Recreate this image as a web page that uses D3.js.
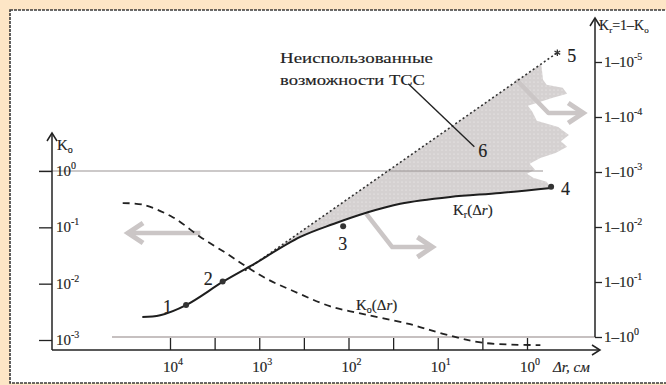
<!DOCTYPE html>
<html><head><meta charset="utf-8">
<script src="https://cdn.jsdelivr.net/npm/d3@7"></script>
<style>body{margin:0;background:#fde6c6;}svg{display:block;}text{font-family:"Liberation Serif","DejaVu Serif",serif;fill:#222;stroke:#222;stroke-width:0.15;}</style>
</head><body>
<svg id="c" width="666" height="385"></svg>
<script>
// ---- data (exponents: lg Δr, lg K) ----
const xDecades = [4, 3, 2, 1, 0];
const xMinorTicks = [4, 3.5, 3, 2.5, 2, 1.5, 1, 0.5, 0];
const yLeftTicks = [0, -1, -2, -3];
const yRightTicks = [5, 4, 3, 2, 1, 0];

// K_r(Δr) solid curve
const krLgDr = [4.31, 4.11, 3.82, 3.41, 3.10, 2.54, 2.17, 1.80, 1.42, 0.86, 0.30, -0.27];
const krLgK  = [-2.59, -2.56, -2.38, -1.97, -1.69, -1.17, -0.94, -0.74, -0.58, -0.46, -0.39, -0.30];

// K_o(Δr) dashed curve
const koLgDr = [4.53, 4.30, 3.97, 3.66, 3.36, 3.14, 2.91, 2.62, 2.21, 1.95, 1.31, 0.94, 0.49, -0.15];
const koLgK  = [-0.57, -0.60, -0.82, -1.17, -1.47, -1.70, -1.92, -2.13, -2.40, -2.50, -2.72, -2.89, -3.05, -3.09];

// upper bound (dotted)
const upLgDr = [3.16, -0.34];
const upLgK  = [-1.77, 2.10];

// jagged right edge of the shaded area (unused potential)
const edgeLgDr = [-0.16, -0.18, -0.22, -0.40, -0.45, -0.29, -0.15, -0.01, -0.06, -0.11, -0.35, -0.47, -0.38, -0.45, -0.32, -0.15, -0.03, -0.09, 0.00, -0.07, -0.22];
const edgeLgK  = [1.90, 1.62, 1.53, 1.48, 1.37, 1.30, 1.23, 1.16, 1.05, 0.89, 0.78, 0.64, 0.53, 0.43, 0.32, 0.23, 0.13, 0.02, -0.05, -0.12, -0.19];

// numbered points
const ptLabels = ["1", "2", "3", "4"];
const ptLgDr = [3.82, 3.41, 2.06, -0.27];
const ptLgK  = [-2.38, -1.96, -0.98, -0.28];
const pt5 = [-0.34, 2.10];

// grey arrows (polylines in lg coords)
const arrowsLgDr = [[3.66, 4.47], [1.80, 1.51, 1.06], [0.12, -0.24, -0.63]];
const arrowsLgK  = [[-1.10, -1.10], [-0.76, -1.35, -1.35], [1.62, 1.03, 1.03]];

// leader line to "6"
const leaderLgDr = [1.33, 0.59];
const leaderLgK  = [1.55, 0.43];

// ---- drawing ----
const svg = d3.select("#c");
const x = d3.scaleLinear().domain([4, 0]).range([170, 527]);
const yL = d3.scaleLinear().domain([-3, 0]).range([340, 171]);
const yR = d3.scaleLinear().domain([0, 5]).range([337, 62]);
const P = (a, b) => a.map((v, i) => [x(v), yL(b[i])]);

// frame
svg.append("rect").attr("x", 10).attr("y", 10).attr("width", 670).attr("height", 373)
  .attr("fill", "#fff").attr("stroke", "#3a3a3a").attr("stroke-width", 1.6).attr("stroke-dasharray", "3,1");

// pattern
const defs = svg.append("defs");
const pat = defs.append("pattern").attr("id", "dots").attr("width", 4).attr("height", 4).attr("patternUnits", "userSpaceOnUse");
pat.append("rect").attr("width", 4).attr("height", 4).attr("fill", "#d5d1d1");
pat.append("circle").attr("cx", 2).attr("cy", 2).attr("r", 0.6).attr("fill", "#f4f2f2");

// shaded area: dotted top, jagged right edge, K_r curve bottom
const krPts = P(krLgDr, krLgK);
const bottom = krPts.filter(p => p[0] >= x(upLgDr[0]));
const shadePts = [[x(upLgDr[0]), yL(upLgK[0])]].concat(P(edgeLgDr, edgeLgK)).concat(bottom.slice().reverse());
svg.append("path").attr("d", d3.line().curve(d3.curveLinearClosed)(shadePts)).attr("fill", "url(#dots)");

// grey reference lines
svg.append("line").attr("x1", 39).attr("x2", 543).attr("y1", yL(0)).attr("y2", yL(0)).attr("stroke", "#9a9494").attr("stroke-width", 1.2);
svg.append("line").attr("x1", 112).attr("x2", 595).attr("y1", yR(0)).attr("y2", yR(0)).attr("stroke", "#b3abab").attr("stroke-width", 1.4);

// grey arrows
const arrowCol = "#cbc6c6";
arrowsLgDr.forEach((a, i) => {
  const pts = P(a, arrowsLgK[i]);
  svg.append("path").attr("d", d3.line()(pts)).attr("fill", "none").attr("stroke", arrowCol).attr("stroke-width", 4.5).attr("stroke-linejoin", "round");
  const [tx, ty] = pts[pts.length - 1];
  const dir = Math.sign(tx - pts[pts.length - 2][0]);
  svg.append("path").attr("d", `M${tx - dir * 15},${ty - 10} L${tx},${ty} L${tx - dir * 15},${ty + 10}`)
    .attr("fill", "none").attr("stroke", arrowCol).attr("stroke-width", 5).attr("stroke-linejoin", "miter");
});

// axes
const axStyle = g => g.selectAll("line").attr("stroke", "#222").attr("stroke-width", 1.3);
const gx = svg.append("g").attr("transform", "translate(0,350)")
  .call(d3.axisBottom(x).tickValues(xMinorTicks).tickSizeInner(-12).tickSizeOuter(0).tickFormat(""));
gx.select(".domain").remove(); axStyle(gx);
const gl = svg.append("g").attr("transform", "translate(52,0)")
  .call(d3.axisLeft(yL).tickValues(yLeftTicks).tickSizeInner(13).tickSizeOuter(0).tickFormat(""));
gl.select(".domain").remove(); axStyle(gl);
const gr = svg.append("g").attr("transform", "translate(595,0)")
  .call(d3.axisRight(yR).tickValues(yRightTicks).tickSizeInner(7).tickSizeOuter(0).tickFormat(""));
gr.select(".domain").remove(); axStyle(gr);

const axisLine = (d) => svg.append("path").attr("d", d).attr("fill", "none").attr("stroke", "#222").attr("stroke-width", 1.5);
axisLine("M52,350 L52,134"); axisLine("M47,141 L52,133 L57,141");
axisLine("M52,350 L600,350"); axisLine("M592,345 L600,350 L592,355");
axisLine(`M595,${yR(0)} L595,19`); axisLine("M590,26 L595,18 L600,26");

// tick labels
svg.selectAll(".xl").data(xDecades).join("text").attr("class", "xl")
  .attr("x", d => x(d) - 7).attr("y", 372).attr("font-size", 15)
  .each(function (d) { const t = d3.select(this); t.append("tspan").text("10"); t.append("tspan").attr("dy", -7).attr("font-size", 10).text(d); });
svg.selectAll(".yl").data(yLeftTicks).join("text").attr("class", "yl")
  .attr("x", 56).attr("y", d => yL(d) + 5).attr("font-size", 15)
  .each(function (d) { const t = d3.select(this); t.append("tspan").text("10"); t.append("tspan").attr("dy", -7).attr("font-size", 10).text(d); });
svg.selectAll(".yr").data(yRightTicks).join("text").attr("class", "yr")
  .attr("x", 604).attr("y", d => yR(d) + 5).attr("font-size", 15)
  .each(function (d) { const t = d3.select(this); t.append("tspan").text("1–10"); t.append("tspan").attr("dy", -7).attr("font-size", 10).text(d === 0 ? "0" : "-" + d); });

// axis titles
const ko = svg.append("text").attr("x", 57).attr("y", 150).attr("font-size", 15);
ko.append("tspan").text("K"); ko.append("tspan").attr("dy", 3).attr("font-size", 10).text("o");
const kr = svg.append("text").attr("x", 599).attr("y", 30).attr("font-size", 14);
kr.append("tspan").text("K"); kr.append("tspan").attr("dy", 3).attr("font-size", 9).text("r");
kr.append("tspan").attr("dy", -3).text("=1–K"); kr.append("tspan").attr("dy", 3).attr("font-size", 9).text("o");
svg.append("text").attr("x", 553).attr("y", 372).attr("font-size", 15).attr("font-style", "italic").text("Δr, см");

// curves
svg.append("path").attr("d", d3.line().curve(d3.curveCatmullRom.alpha(0.5))(P(koLgDr, koLgK)))
  .attr("fill", "none").attr("stroke", "#222").attr("stroke-width", 1.8).attr("stroke-dasharray", "7,5");
svg.append("path").attr("d", d3.line()(P(upLgDr, upLgK)))
  .attr("fill", "none").attr("stroke", "#333").attr("stroke-width", 1.6).attr("stroke-dasharray", "2,2.5");
svg.append("path").attr("d", d3.line().curve(d3.curveCatmullRom.alpha(0.5))(krPts))
  .attr("fill", "none").attr("stroke", "#1e1e1e").attr("stroke-width", 2);

// leader
svg.append("path").attr("d", d3.line()(P(leaderLgDr, leaderLgK))).attr("stroke", "#222").attr("stroke-width", 1.4);

// points
svg.selectAll(".pt").data(ptLabels).join("circle").attr("class", "pt")
  .attr("cx", (d, i) => x(ptLgDr[i])).attr("cy", (d, i) => yL(ptLgK[i])).attr("r", 3).attr("fill", "#333");
svg.append("path").attr("d", d3.symbol(d3.symbolAsterisk, 30)()).attr("transform", `translate(${x(pt5[0])},${yL(pt5[1])})`)
  .attr("stroke", "#333").attr("stroke-width", 1.3);

// numbered labels
const lblOff = [[-23, 8], [-19, 4], [-5, 24], [10, 8]];
svg.selectAll(".pl").data(ptLabels).join("text").attr("class", "pl")
  .attr("x", (d, i) => x(ptLgDr[i]) + lblOff[i][0]).attr("y", (d, i) => yL(ptLgK[i]) + lblOff[i][1])
  .attr("font-size", 18).text(d => d);
svg.append("text").attr("x", x(pt5[0]) + 10).attr("y", yL(pt5[1]) + 9).attr("font-size", 18).text("5");
svg.append("text").attr("x", x(leaderLgDr[1]) + 4).attr("y", yL(leaderLgK[1]) + 10).attr("font-size", 18).text("6");

// curve labels
const lr = svg.append("text").attr("x", 453).attr("y", 215).attr("font-size", 15);
lr.append("tspan").text("K"); lr.append("tspan").attr("dy", 3).attr("font-size", 10).text("r");
lr.append("tspan").attr("dy", -3).text("(Δ"); lr.append("tspan").attr("font-style", "italic").text("r"); lr.append("tspan").text(")");
const lo = svg.append("text").attr("x", 356).attr("y", 310).attr("font-size", 15);
lo.append("tspan").text("K"); lo.append("tspan").attr("dy", 3).attr("font-size", 10).text("o");
lo.append("tspan").attr("dy", -3).text("(Δ"); lo.append("tspan").attr("font-style", "italic").text("r"); lo.append("tspan").text(")");

// annotation text
svg.append("text").attr("x", 280).attr("y", 63).attr("font-size", 15).attr("textLength", 153).attr("lengthAdjust", "spacingAndGlyphs").text("Неиспользованные");
svg.append("text").attr("x", 280).attr("y", 85).attr("font-size", 15).attr("textLength", 145).attr("lengthAdjust", "spacingAndGlyphs").text("возможности ТСС");
</script>
</body></html>
